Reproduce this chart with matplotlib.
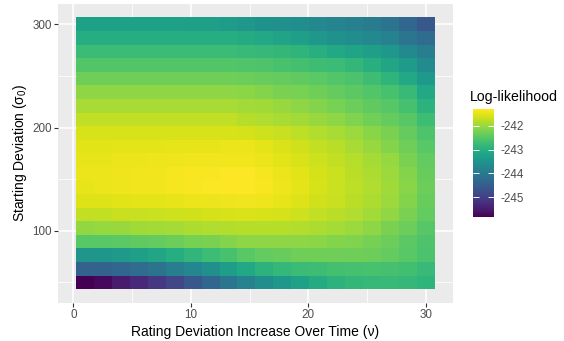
import matplotlib
matplotlib.use("Agg")
import matplotlib.pyplot as plt
import numpy as np

# ── data ──────────────────────────────────────────────────────────────────────
nu = [1.00, 2.53, 4.05, 5.58, 7.11, 8.63, 10.16, 11.68, 13.21, 14.74,
      16.26, 17.79, 19.32, 20.84, 22.37, 23.89, 25.42, 26.95, 28.47, 30.00]
sigma0 = [300.00, 286.84, 273.68, 260.53, 247.37, 234.21, 221.05, 207.89,
          194.74, 181.58, 168.42, 155.26, 142.11, 128.95, 115.79, 102.63,
          89.47, 76.32, 63.16, 50.00]

# one row per sigma0 (top to bottom), one column per nu
loglik = [
    [-243.26, -243.26, -243.26, -243.26, -243.26, -243.26, -243.30, -243.30, -243.35, -243.44,
     -243.53, -243.58, -243.62, -243.71, -243.80, -243.89, -243.98, -244.12, -244.34, -244.61],
    [-243.03, -243.03, -243.03, -243.03, -243.03, -243.03, -243.03, -243.03, -243.03, -243.08,
     -243.12, -243.21, -243.30, -243.44, -243.53, -243.62, -243.71, -243.85, -244.07, -244.25],
    [-242.76, -242.76, -242.76, -242.76, -242.76, -242.76, -242.76, -242.76, -242.76, -242.79,
     -242.81, -242.85, -242.90, -242.99, -243.12, -243.21, -243.30, -243.44, -243.71, -243.94],
    [-242.54, -242.54, -242.54, -242.54, -242.54, -242.54, -242.54, -242.54, -242.54, -242.56,
     -242.58, -242.63, -242.67, -242.72, -242.76, -242.85, -242.99, -243.17, -243.35, -243.67],
    [-242.31, -242.31, -242.31, -242.31, -242.31, -242.31, -242.31, -242.31, -242.31, -242.33,
     -242.36, -242.38, -242.42, -242.47, -242.54, -242.60, -242.72, -242.90, -243.12, -243.39],
    [-242.09, -242.09, -242.09, -242.09, -242.09, -242.09, -242.09, -242.09, -242.09, -242.11,
     -242.15, -242.22, -242.24, -242.31, -242.38, -242.45, -242.54, -242.63, -242.79, -243.12],
    [-241.91, -241.91, -241.91, -241.91, -241.91, -241.91, -241.91, -241.91, -241.91, -241.95,
     -241.97, -242.02, -242.09, -242.15, -242.24, -242.33, -242.42, -242.51, -242.65, -242.94],
    [-241.75, -241.75, -241.75, -241.75, -241.75, -241.75, -241.75, -241.75, -241.75, -241.82,
     -241.86, -241.91, -241.95, -242.02, -242.09, -242.20, -242.29, -242.38, -242.51, -242.74],
    [-241.59, -241.59, -241.59, -241.59, -241.59, -241.59, -241.59, -241.59, -241.59, -241.61,
     -241.66, -241.70, -241.77, -241.84, -241.91, -242.00, -242.13, -242.22, -242.38, -242.58],
    [-241.52, -241.52, -241.50, -241.50, -241.50, -241.48, -241.48, -241.48, -241.46, -241.46,
     -241.50, -241.57, -241.64, -241.73, -241.79, -241.91, -242.02, -242.15, -242.31, -242.49],
    [-241.48, -241.48, -241.46, -241.46, -241.43, -241.43, -241.41, -241.41, -241.41, -241.41,
     -241.46, -241.52, -241.59, -241.66, -241.73, -241.82, -241.93, -242.04, -242.22, -242.40],
    [-241.46, -241.46, -241.43, -241.41, -241.41, -241.39, -241.36, -241.36, -241.34, -241.34,
     -241.39, -241.46, -241.52, -241.61, -241.68, -241.79, -241.88, -242.00, -242.15, -242.36],
    [-241.48, -241.46, -241.43, -241.41, -241.41, -241.39, -241.36, -241.34, -241.33, -241.32,
     -241.36, -241.43, -241.50, -241.59, -241.68, -241.77, -241.86, -241.97, -242.13, -242.33],
    [-241.55, -241.55, -241.52, -241.50, -241.50, -241.48, -241.46, -241.46, -241.43, -241.41,
     -241.43, -241.48, -241.55, -241.64, -241.70, -241.79, -241.88, -242.00, -242.15, -242.36],
    [-241.73, -241.73, -241.70, -241.70, -241.68, -241.66, -241.64, -241.61, -241.59, -241.57,
     -241.59, -241.61, -241.66, -241.73, -241.79, -241.86, -241.95, -242.06, -242.22, -242.40],
    [-242.06, -242.04, -242.02, -241.97, -241.95, -241.93, -241.88, -241.86, -241.84, -241.82,
     -241.82, -241.82, -241.84, -241.88, -241.93, -242.00, -242.09, -242.22, -242.33, -242.51],
    [-242.49, -242.49, -242.47, -242.42, -242.40, -242.33, -242.27, -242.22, -242.15, -242.09,
     -242.09, -242.09, -242.09, -242.11, -242.15, -242.20, -242.27, -242.33, -242.47, -242.58],
    [-243.48, -243.46, -243.39, -243.30, -243.17, -243.03, -242.88, -242.74, -242.63, -242.49,
     -242.40, -242.36, -242.31, -242.31, -242.31, -242.31, -242.33, -242.40, -242.49, -242.60],
    [-244.43, -244.41, -244.36, -244.25, -244.12, -243.94, -243.76, -243.58, -243.33, -243.12,
     -242.94, -242.83, -242.76, -242.72, -242.67, -242.65, -242.63, -242.65, -242.69, -242.79],
    [-245.83, -245.74, -245.51, -245.33, -245.11, -244.88, -244.61, -244.34, -244.07, -243.85,
     -243.62, -243.44, -243.26, -243.08, -242.94, -242.85, -242.81, -242.79, -242.83, -242.90],
]

x_breaks = [0, 10, 20, 30]
y_breaks = [100, 200, 300]
cbar_breaks = [-245, -244, -243, -242]

# ── style (ggplot2 theme_gray look) ───────────────────────────────────────────
PANEL = "#EBEBEB"
TICK_TXT = "#4D4D4D"
TICK = "#333333"

plt.rcParams.update({
    "font.family": ["Liberation Sans", "DejaVu Sans"],
    "mathtext.fontset": "custom",
    "mathtext.rm": "Liberation Sans",
    "mathtext.it": "Liberation Sans",
    "axes.unicode_minus": False,
})

fig = plt.figure(figsize=(5.64, 3.41), dpi=100)
ax = fig.add_axes([0.103, 0.1123, 0.6997, 0.8763])
ax.set_facecolor(PANEL)
for s in ax.spines.values():
    s.set_visible(False)

# grid
ax.set_xticks(x_breaks)
ax.set_yticks(y_breaks)
ax.set_xticks([5, 15, 25], minor=True)
ax.set_yticks([50, 150, 250], minor=True)
ax.grid(True, which="major", color="white", linewidth=1.1)
ax.grid(True, which="minor", color="white", linewidth=0.55)
ax.set_axisbelow(True)

Z = np.array(loglik)[::-1]
Y = np.array(sigma0)[::-1]
mesh = ax.pcolormesh(nu, Y, Z, shading="nearest", cmap="viridis",
                     vmin=Z.min(), vmax=Z.max(), antialiased=False,
                     edgecolors="none", zorder=2)

ax.set_xlim(-1.29, 32.29)
ax.set_ylim(30.26, 319.76)

ax.tick_params(which="major", length=2.6, width=0.8, color=TICK,
               labelsize=8.4, labelcolor=TICK_TXT, pad=2)
ax.tick_params(which="minor", length=0)
ax.set_xlabel("Rating Deviation Increase Over Time (ν)", fontsize=10, labelpad=2.5)
ax.set_ylabel("Starting Deviation (σ$_0$)", fontsize=10, labelpad=2.5)

# colourbar
cax = fig.add_axes([0.838, 0.3628, 0.0383, 0.3167])
cb = fig.colorbar(mesh, cax=cax)
cb.outline.set_visible(False)
cb.set_ticks(cbar_breaks)
cb.set_ticklabels([str(b) for b in cbar_breaks])
cax.tick_params(axis="y", direction="in", length=4.3, width=0.7, color="white",
                left=True, right=True, labelleft=False, labelright=True,
                labelsize=8.4, labelcolor=TICK_TXT, pad=4.5)
fig.text(0.833, 0.717, "Log-likelihood", fontsize=10.2, ha="left", va="center")

fig.savefig("out.png", dpi=100)
